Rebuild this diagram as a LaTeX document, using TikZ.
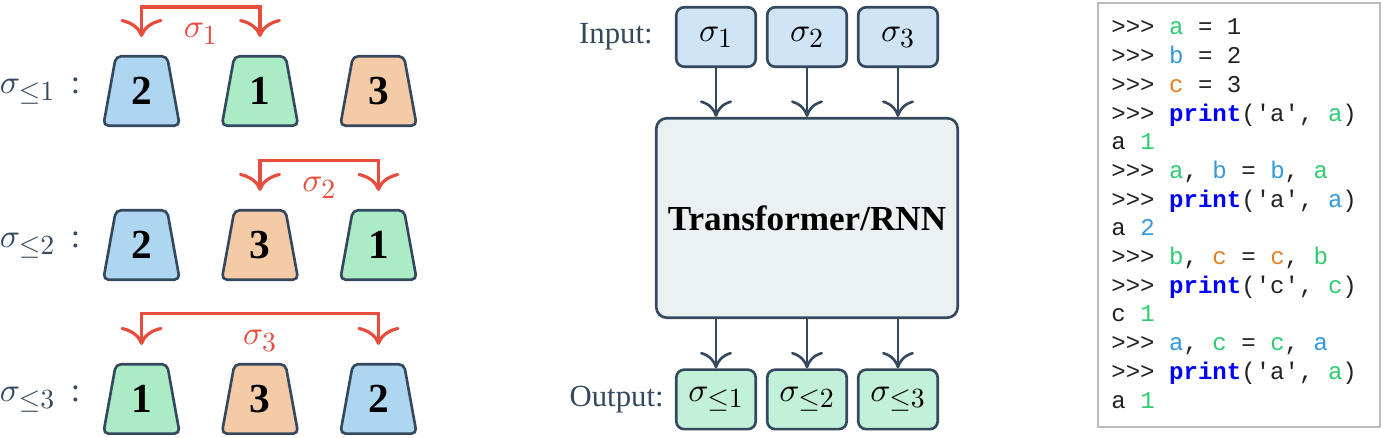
\documentclass[tikz,border=0pt]{standalone}
\usepackage[no-math]{fontspec}
\setmainfont{Liberation Serif}
\newfontfamily\codefont{Liberation Mono}
\usepackage{tikz}
\usetikzlibrary{shapes.geometric,arrows.meta,positioning}
% scalable math fonts
\DeclareFontShape{OML}{cmm}{m}{it}{<->cmmi10}{}
\DeclareFontShape{OMS}{cmsy}{m}{n}{<->cmsy10}{}
\DeclareFontShape{OT1}{cmr}{m}{n}{<->cmr10}{}
\renewcommand{\defaultscriptratio}{.83}
\definecolor{slate}{HTML}{34495E}
\definecolor{swapred}{HTML}{E74C3C}
\definecolor{cardblue}{HTML}{AED6F1}
\definecolor{cardgreen}{HTML}{ABEBC6}
\definecolor{cardorange}{HTML}{F5CBA7}
\definecolor{inblue}{HTML}{CFE5F6}
\definecolor{outgreen}{HTML}{C3F0D8}
\definecolor{modelgray}{HTML}{EBF0F1}
\definecolor{codegreen}{HTML}{2ECC71}
\definecolor{codeblue}{HTML}{3498DB}
\definecolor{codeorange}{HTML}{E67E22}
\definecolor{codegray}{HTML}{BBBBBB}
\definecolor{codetext}{HTML}{222222}
\newcommand{\cg}[1]{\textcolor{codegreen}{#1}}
\newcommand{\cb}[1]{\textcolor{codeblue}{#1}}
\newcommand{\co}[1]{\textcolor{codeorange}{#1}}
\newcommand{\kw}[1]{\textcolor{blue}{\bfseries #1}}
\newcommand{\qt}{\textquotesingle}
\tikzstyle{card} = [trapezium, trapezium angle=79.5, trapezium stretches=true,
    minimum width=1.53cm, minimum height=1.39cm, draw=slate, line width=1.5pt,
    rounded corners=3pt, inner sep=0pt, font=\fontsize{23.5}{26}\selectfont\bfseries]
\tikzstyle{perm} = [inner sep=0pt, text=slate, font=\fontsize{19}{22}\selectfont]
\tikzstyle{swaparrow} = [draw=swapred, line width=1.8pt, shorten <=0.36cm, shorten >=0.36cm,
    {Computer Modern Rightarrow[length=0.36cm, width=0.84cm]}-{Computer Modern Rightarrow[length=0.36cm, width=0.84cm]}]
\tikzstyle{swaplabel} = [inner sep=0pt, text=swapred, font=\fontsize{19}{22}\selectfont]
\tikzstyle{inbox} = [rectangle, draw=slate, fill=inblue, line width=1.5pt, rounded corners=4.5pt,
    minimum width=1.59cm, minimum height=1.19cm, font=\fontsize{19}{22}\selectfont]
\tikzstyle{outbox} = [inbox, fill=outgreen]
\tikzstyle{model} = [rectangle, draw=slate, fill=modelgray, line width=1.5pt, rounded corners=6pt,
    minimum width=6.03cm, minimum height=3.99cm, font=\fontsize{20}{24}\selectfont\bfseries]
\tikzstyle{io} = [inner sep=0pt, text=slate, font=\fontsize{17.5}{21}\selectfont]
\tikzstyle{flowarrow} = [draw=slate, line width=1.5pt,
    -{Computer Modern Rightarrow[length=0.33cm, width=0.64cm]}]
\tikzstyle{codebox} = [rectangle, draw=codegray, line width=1.1pt, minimum width=5.64cm, minimum height=8.48cm]
\tikzstyle{codeline} = [anchor=base west, inner sep=0pt, text=codetext,
    font=\codefont\fontsize{13.7}{16}\selectfont]

\begin{document}
\begin{tikzpicture}[x=0.02cm, y=-0.02cm, node distance=2.37cm]
    \useasboundingbox (0,0) rectangle (1383,438);
    % Place cards
    \node [card, fill=cardblue] (r1a) at (141.5,91) {2};
    \node [card, fill=cardgreen, right of=r1a] (r1b) {1};
    \node [card, fill=cardorange, right of=r1b] (r1c) {3};
    \node [card, fill=cardblue, below of=r1a, node distance=3.08cm] (r2a) {2};
    \node [card, fill=cardorange, right of=r2a] (r2b) {3};
    \node [card, fill=cardgreen, right of=r2b] (r2c) {1};
    \node [card, fill=cardgreen, below of=r2a, node distance=3.08cm] (r3a) {1};
    \node [card, fill=cardorange, right of=r3a] (r3b) {3};
    \node [card, fill=cardblue, right of=r3b] (r3c) {2};
    \node [perm, left of=r1a, node distance=2.03cm] (p1) {$\sigma_{\leq 1}$\hspace{9pt}:};
    \node [perm, left of=r2a, node distance=2.03cm] (p2) {$\sigma_{\leq 2}$\hspace{9pt}:};
    \node [perm, left of=r3a, node distance=2.03cm] (p3) {$\sigma_{\leq 3}$\hspace{9pt}:};
    % Draw swaps
    \path [swaparrow] (r1a.north) -- ++(0,-48) -| node [swaplabel, pos=0.25, below=0.3cm] {$\sigma_1$} (r1b.north);
    \path [swaparrow] (r2b.north) -- ++(0,-48) -| node [swaplabel, pos=0.25, below=0.3cm] {$\sigma_2$} (r2c.north);
    \path [swaparrow] (r3a.north) -- ++(0,-49) -| node [swaplabel, pos=0.25, below=0.3cm] {$\sigma_3$} (r3c.north);
    % Place model
    \node [inbox] (in1) at (716,37) {$\sigma_1$};
    \node [inbox, right of=in1, node distance=1.82cm] (in2) {$\sigma_2$};
    \node [inbox, right of=in2, node distance=1.82cm] (in3) {$\sigma_3$};
    \node [model, below of=in2, node distance=3.62cm] (model) {Transformer/RNN};
    \node [outbox, below of=model, node distance=3.63cm] (out2) {$\sigma_{\leq 2}$};
    \node [outbox, left of=out2, node distance=1.82cm] (out1) {$\sigma_{\leq 1}$};
    \node [outbox, right of=out2, node distance=1.82cm] (out3) {$\sigma_{\leq 3}$};
    \node [io, left=0.44cm of in1] (inlbl) {Input:};
    \node [io, left=0.22cm of out1] (outlbl) {Output:};
    \foreach \k in {1,2,3} {
        \path [flowarrow] (in\k) -- (in\k |- model.north);
        \path [flowarrow] (model.south -| out\k) -- (out\k);
    }
    % Code panel
    \node [codebox] (code) at (1239,215) {};
    \foreach \codeln [count=\i] in {
        {>>> \cg{a} = 1},
        {>>> \cb{b} = 2},
        {>>> \co{c} = 3},
        {>>> \kw{print}(\qt a\qt, \cg{a})},
        {a \cg{1}},
        {>>> \cg{a}, \cb{b} = \cb{b}, \cg{a}},
        {>>> \kw{print}(\qt a\qt, \cb{a})},
        {a \cb{2}},
        {>>> \cg{b}, \co{c} = \co{c}, \cg{b}},
        {>>> \kw{print}(\qt c\qt, \cg{c})},
        {c \cg{1}},
        {>>> \cb{a}, \cg{c} = \cg{c}, \cb{a}},
        {>>> \kw{print}(\qt a\qt, \cg{a})},
        {a \cg{1}}}
        \node [codeline] (l\i) at (1111, {35+28.7*(\i-1)}) {\codeln};
\end{tikzpicture}
\end{document}
